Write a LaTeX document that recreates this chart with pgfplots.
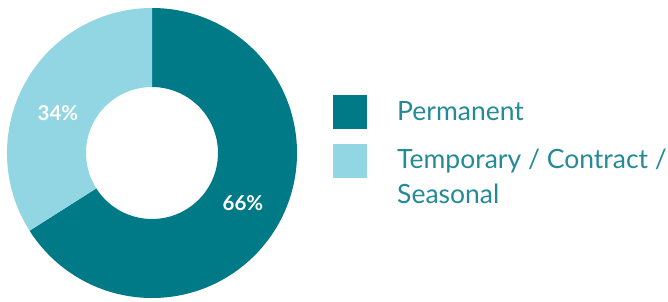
\documentclass[border=0pt]{standalone}
\usepackage{fontspec}
\setmainfont{Lato}
\usepackage{pgfplots}
\usepackage{pgfplotstable}
\pgfplotsset{compat=1.18}
\definecolor{perm}{RGB}{0,122,135}
\definecolor{temp}{RGB}{147,214,227}
\definecolor{legtext}{RGB}{35,138,150}
\pgfplotstableread{
label share
Permanent 66
Temporary 34
}\sharetable
\pgfplotstablegetelem{0}{share}\of\sharetable \let\sharePerm\pgfplotsretval
\pgfplotstablegetelem{1}{share}\of\sharetable \let\shareTemp\pgfplotsretval
\pgfmathsetmacro{\aStart}{90}
\pgfmathsetmacro{\aMid}{90-3.6*\sharePerm}
\pgfmathsetmacro{\aEnd}{\aMid-3.6*\shareTemp}
\def\Rout{145pt}
\def\Rin{66pt}
\begin{document}
\begin{tikzpicture}
\begin{axis}[x=1pt,y=1pt,xmin=0,xmax=668,ymin=0,ymax=301,hide axis,clip=false,
  scale only axis,anchor=origin,at={(0pt,0pt)}]
% donut
\fill[perm] ([shift={(\aStart:\Rout)}]axis cs:152,148) arc[start angle=\aStart,end angle=\aMid,radius=\Rout]
  -- ([shift={(\aMid:\Rin)}]axis cs:152,148) arc[start angle=\aMid,end angle=\aStart,radius=\Rin] -- cycle;
\fill[temp] ([shift={(\aMid:\Rout)}]axis cs:152,148) arc[start angle=\aMid,end angle=\aEnd,radius=\Rout]
  -- ([shift={(\aEnd:\Rin)}]axis cs:152,148) arc[start angle=\aEnd,end angle=\aMid,radius=\Rin] -- cycle;
\node[white,font=\fontsize{20.5}{24}\selectfont\bfseries] at (axis cs:58,188) {\shareTemp\%};
\node[white,font=\fontsize{20.5}{24}\selectfont\bfseries] at (axis cs:243,98) {\sharePerm\%};
% legend
\fill[perm] (axis cs:333,172) rectangle (axis cs:367,206);
\fill[temp] (axis cs:333,123) rectangle (axis cs:367,157);
\node[legtext,anchor=base west,inner sep=0pt,font=\fontsize{26.5}{35}\selectfont] at (axis cs:397,181) {Permanent};
\node[legtext,anchor=base west,inner sep=0pt,font=\fontsize{26.5}{35}\selectfont] at (axis cs:397,133) {Temporary / Contract /};
\node[legtext,anchor=base west,inner sep=0pt,font=\fontsize{26.5}{35}\selectfont] at (axis cs:397,98) {Seasonal};
\end{axis}
\pgfresetboundingbox
\useasboundingbox (0pt,0pt) rectangle (668pt,301pt);
\end{tikzpicture}
\end{document}
